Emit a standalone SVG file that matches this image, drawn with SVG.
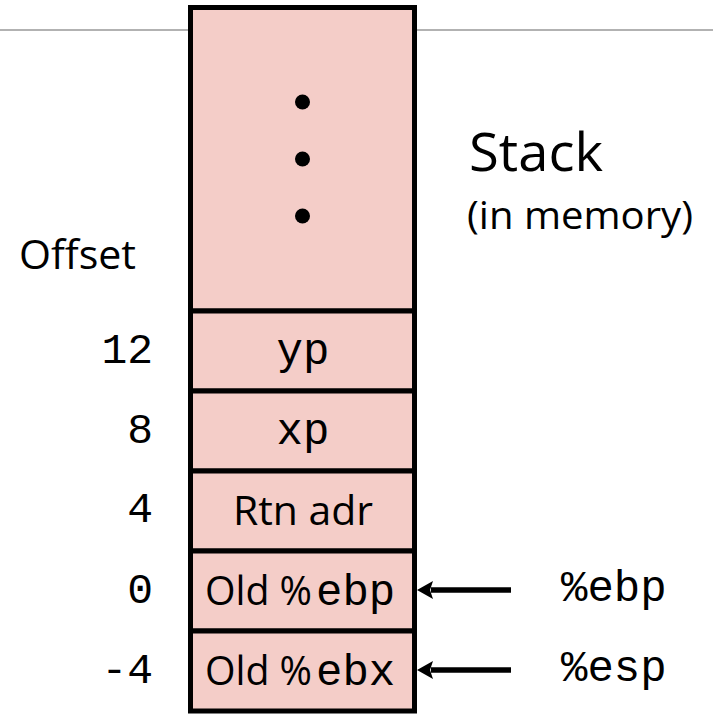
<svg xmlns="http://www.w3.org/2000/svg" width="713" height="715" viewBox="0 0 713 715">
  <style>
    .cell { fill: #F4CDC8; stroke: #000; stroke-width: 5; }
    .sans { font-family: "Open Sans", "Liberation Sans", sans-serif; fill: #000; }
    .mono { font-family: "Liberation Mono", "Courier New", monospace; font-size: 44px; fill: #000; }
    .off { font-family: "Liberation Mono", "Courier New", monospace; font-size: 43px; text-anchor: end; fill: #000; }
    .lbl { text-anchor: middle; }
    .arrow { stroke: #000; stroke-width: 5.5; fill: none; marker-end: url(#head); }
  </style>
  <defs>
    <marker id="head" markerUnits="userSpaceOnUse" markerWidth="16" markerHeight="18" viewBox="0 0 16 18" refX="2" refY="9" orient="auto">
      <path d="M0,0 L16,9 L0,18 L3,9 z" fill="#000"/>
    </marker>
  </defs>

  <!-- page rule behind the stack -->
  <line x1="0" y1="30" x2="713" y2="30" stroke="#999" stroke-width="1.5"/>

  <!-- stack cells, top to bottom -->
  <g id="cell-more">
    <rect class="cell" x="190.5" y="7.5" width="224" height="303.5"/>
    <circle cx="302.5" cy="102" r="7.5"/>
    <circle cx="302.5" cy="159" r="7.5"/>
    <circle cx="302.5" cy="216" r="7.5"/>
  </g>
  <g id="cell-yp">
    <rect class="cell" x="190.5" y="311" width="224" height="80"/>
    <text class="mono lbl" x="303" y="364">yp</text>
  </g>
  <g id="cell-xp">
    <rect class="cell" x="190.5" y="391" width="224" height="80"/>
    <text class="mono lbl" x="303" y="444">xp</text>
  </g>
  <g id="cell-rtn">
    <rect class="cell" x="190.5" y="471" width="224" height="80"/>
    <text class="sans" x="233" y="525" font-size="40" textLength="140" lengthAdjust="spacingAndGlyphs">Rtn adr</text>
  </g>
  <g id="cell-ebp">
    <rect class="cell" x="190.5" y="551" width="224" height="80"/>
    <text class="sans" x="205" y="605" font-size="40" textLength="107" lengthAdjust="spacingAndGlyphs">Old %</text>
    <text class="mono" x="316" y="605">ebp</text>
  </g>
  <g id="cell-ebx">
    <rect class="cell" x="190.5" y="631" width="224" height="80"/>
    <text class="sans" x="205" y="685" font-size="40" textLength="107" lengthAdjust="spacingAndGlyphs">Old %</text>
    <text class="mono" x="316" y="685">ebx</text>
  </g>

  <!-- titles -->
  <g id="title">
    <text class="sans" x="469" y="171" font-size="53" textLength="134" lengthAdjust="spacingAndGlyphs">Stack</text>
    <text class="sans" x="467" y="229" font-size="39" textLength="226" lengthAdjust="spacingAndGlyphs">(in memory)</text>
  </g>

  <!-- offsets column -->
  <g id="offsets">
    <text class="sans" x="19" y="269" font-size="41" textLength="117" lengthAdjust="spacingAndGlyphs">Offset</text>
    <text class="off" x="153" y="363">12</text>
    <text class="off" x="153" y="443">8</text>
    <text class="off" x="153" y="522">4</text>
    <text class="off" x="153" y="603">0</text>
    <text class="off" x="153" y="683">-4</text>
  </g>

  <!-- register labels -->
  <g id="reg-ebp">
    <text class="mono" x="561" y="601">%ebp</text>
  </g>
  <g id="reg-esp">
    <text class="mono" x="561" y="681">%esp</text>
  </g>

  <!-- pointers from registers to stack slots -->
  <g id="connectors">
    <line class="arrow" x1="511" y1="590" x2="431" y2="590"/>
    <line class="arrow" x1="511" y1="670" x2="431" y2="670"/>
  </g>
</svg>
